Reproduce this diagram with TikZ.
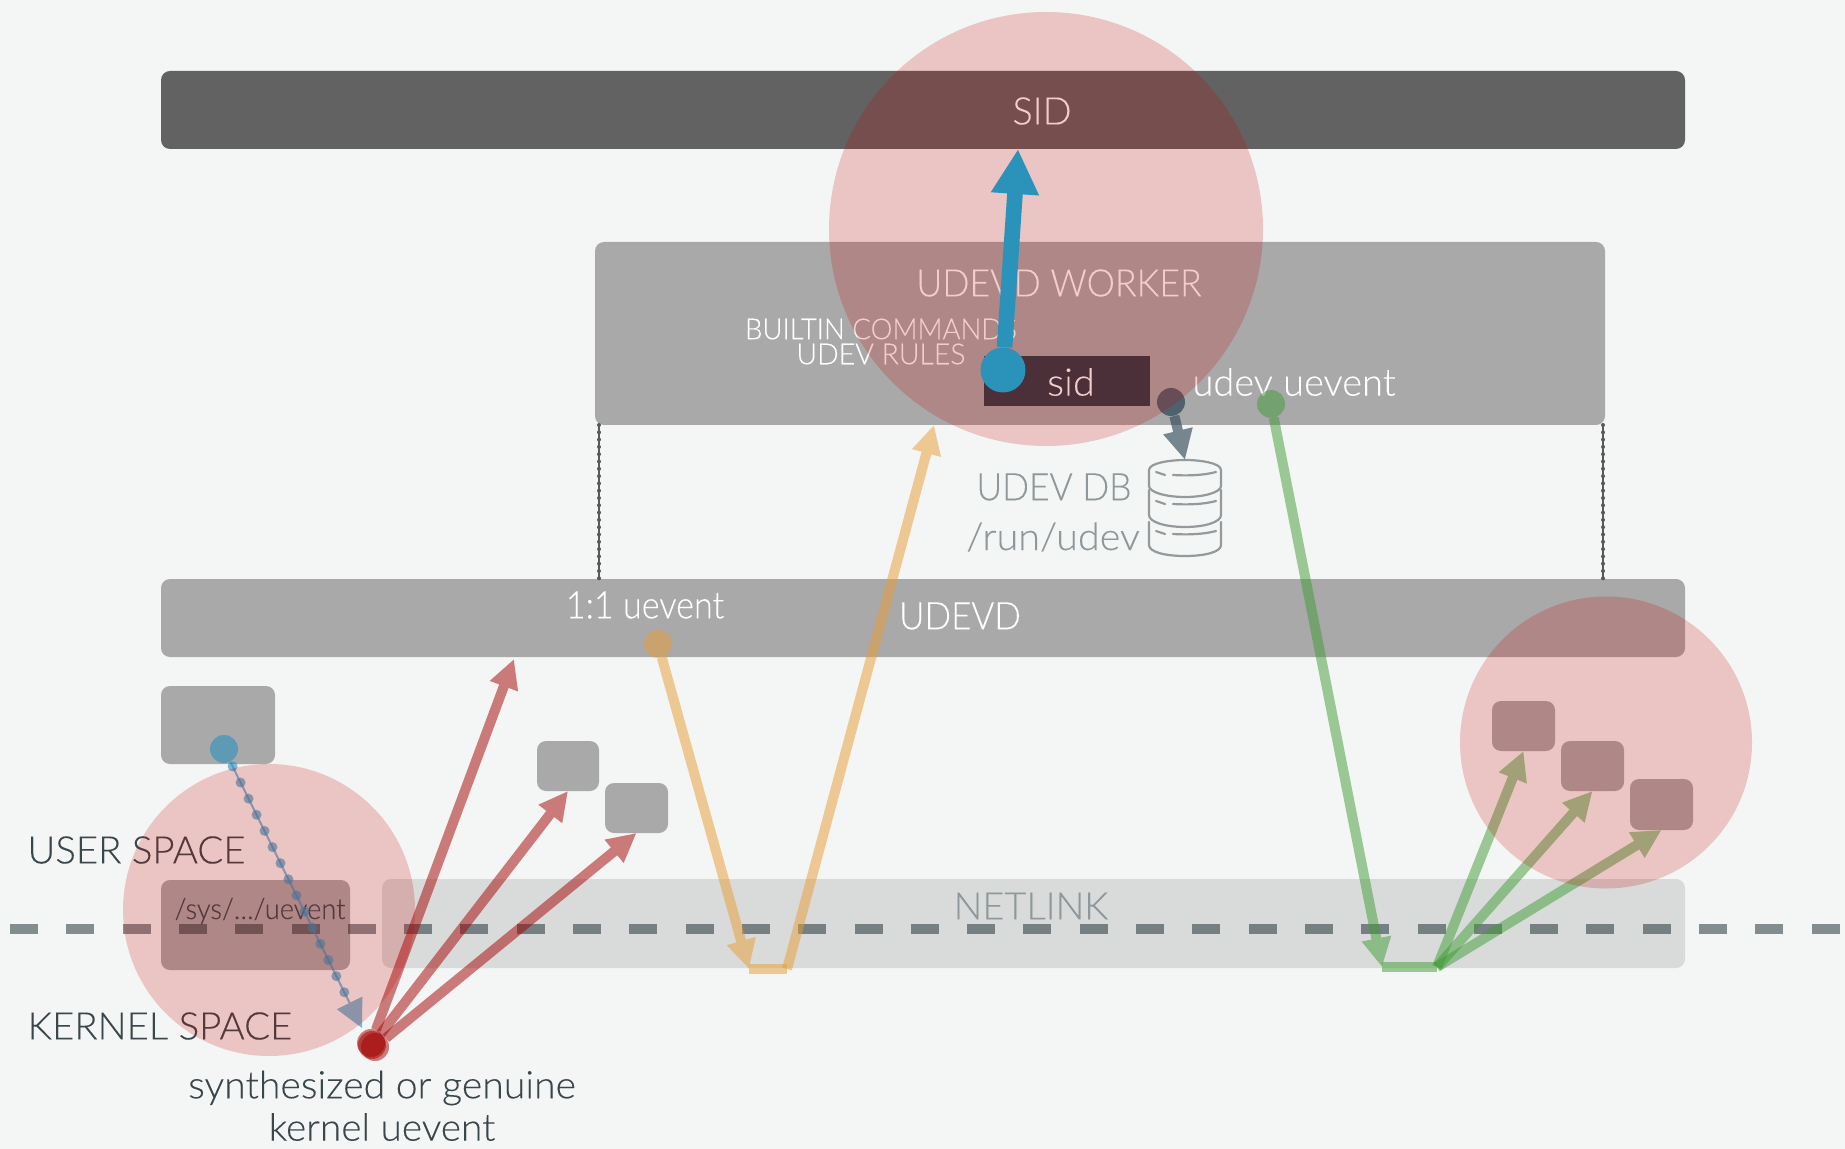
\documentclass[tikz,border=0pt]{standalone}
\usepackage{fontspec}
\setmainfont{Lato}[UprightFont=* Light,FakeBold=0.15,AutoFakeBold=false]
\usetikzlibrary{arrows.meta}
\definecolor{bgc}{HTML}{F4F6F5}
\definecolor{barc}{HTML}{626262}
\definecolor{boxc}{HTML}{A9A9A9}
\definecolor{netc}{HTML}{D9DBDA}
\definecolor{sidc}{HTML}{2C3B48}
\definecolor{pinkc}{HTML}{C70000}
\definecolor{redc}{HTML}{A30000}
\definecolor{yelc}{HTML}{EA9C33}
\definecolor{grnc}{HTML}{3F9C35}
\definecolor{bluec}{HTML}{2C8FBF}
\definecolor{topc}{HTML}{2B93BA}
\definecolor{dbc}{HTML}{324A58}
\definecolor{dashc}{HTML}{14262B}
\definecolor{darkt}{HTML}{39464C}
\definecolor{greyt}{HTML}{8E979B}
\definecolor{dbicon}{HTML}{93999C}
\newcommand{\sx}[2]{\scalebox{#1}[1]{#2}}
\tikzset{
  rbox/.style={rounded corners=4.5pt,inner sep=0pt,outer sep=0pt,fill=#1},
  pinkcircle/.style={circle,inner sep=0pt,outer sep=0pt,fill=pinkc,fill opacity=.2,minimum size=146pt},
  evdot/.style={circle,inner sep=0pt,outer sep=0pt,fill=#1,fill opacity=.5,minimum size=14pt},
  lbl/.style={inner sep=0pt,outer sep=0pt,anchor=center,align=center},
  fbig/.style={font=\fontsize{19}{23}\selectfont},
  fsmall/.style={font=\fontsize{14.5}{15}\selectfont},
  evline/.style={line width=5pt,draw=#1,-{Triangle[length=14.5pt,width=14pt]}},
  evbar/.style={line width=5pt,draw=#1,opacity=.5},
  half/.style={transparency group,opacity=.5},
  vdot/.style={draw=black!65,line width=.7pt},
  vdotb/.style={draw=black!65,line width=2pt,line cap=round,dash pattern=on 0pt off 3.65pt},
  dbline/.style={draw=dbicon,line width=1.1pt,line cap=round,line join=round},
}
\begin{document}
\begin{tikzpicture}[x=.5pt,y=-.5pt]
\fill[bgc] (0,0) rectangle (1845,1149);
\useasboundingbox (0,0) rectangle (1845,1149);
% boxes
\node[rbox=barc,minimum width=762pt,minimum height=39pt] (sidbar) at (923,110) {};
\node[rbox=boxc,minimum width=505pt,minimum height=91.5pt] (worker) at (1100,333.5) {};
\node[rbox=boxc,minimum width=762pt,minimum height=39pt] (udevd) at (923,618) {};
\node[rbox=boxc,minimum width=57pt,minimum height=39pt] (kbox) at (218,725) {};
\node[rbox=boxc,minimum width=31pt,minimum height=25pt] (lb1) at (568,766) {};
\node[rbox=boxc,minimum width=31.5pt,minimum height=25pt] (lb2) at (636.5,808) {};
\node[rbox=boxc,minimum width=94.5pt,minimum height=45pt] (sys) at (255.5,925) {};
\node[rbox=netc,minimum width=651.5pt,minimum height=44.5pt] (netlink) at (1033.5,923.5) {};
\node[rbox=boxc,minimum width=31.5pt,minimum height=25pt] (rb1) at (1523.5,726) {};
\node[rbox=boxc,minimum width=31.5pt,minimum height=25pt] (rb2) at (1592.5,766) {};
\node[rbox=boxc,minimum width=31.5pt,minimum height=25.5pt] (rb3) at (1661.5,804.5) {};
\node[inner sep=0pt,outer sep=0pt,fill=sidc,minimum width=83pt,minimum height=25pt] (sidbox) at (1067,381) {};
% dotted verticals
\coordinate (wl) at (599,425); \coordinate (ul) at (599,579);
\coordinate (wr) at (1603,425); \coordinate (ur) at (1603,579);
\draw[vdot] (wl) -- (ul); \draw[vdotb] (wl) -- (ul);
\draw[vdot] (wr) -- (ur); \draw[vdotb] (wr) -- (ur);
% labels
\node[lbl,fbig,text=white] (tsid) at (1042,111) {SID};
\node[lbl,fbig,text=white] (tworker) at (1059,283) {\sx{.94}{UDEVD WORKER}};
\node[lbl,fsmall,text=white] (tbuiltin) at (881,329) {\sx{.95}{BUILTIN COMMANDS}};
\node[lbl,fsmall,text=white] (trules) at (881,354) {\sx{.98}{UDEV RULES}};
\node[lbl,fbig,text=white] (tsidb) at (1071,382) {\sx{1.05}{sid}};
\node[lbl,fbig,text=white] (tuev) at (1294,382) {udev uevent};
\node[lbl,fbig,text=greyt] (tdb) at (1054,487) {\sx{.93}{UDEV DB}};
\node[lbl,fbig,text=greyt] (trun) at (1053,537) {\sx{1.04}{/run/udev}};
\node[lbl,fbig,text=white] (t11) at (645,605) {\sx{.9}{1:1 uevent}};
\node[lbl,fbig,text=white] (tudevd) at (960,616) {\sx{.92}{UDEVD}};
\node[lbl,fbig,text=greyt] (tnet) at (1031,906) {NETLINK};
\node[lbl,fbig,text=darkt] (tuser) at (136.5,850) {\sx{1.01}{USER SPACE}};
\node[lbl,fbig,text=darkt] (tkern) at (160,1026) {\sx{1.01}{KERNEL SPACE}};
\node[lbl,fsmall,text=darkt] (tsys) at (260,911) {\sx{.94}{/sys/…/uevent}};
\node[lbl,fbig,text=darkt] (tsyn) at (382,1088) {\sx{1.03}{synthesized or genuine}};
\node[lbl,fbig,text=darkt] (tkue) at (382,1127) {\sx{1.02}{kernel uevent}};
% dashed separator
\coordinate (dl) at (10,929); \coordinate (dr) at (1840,929);
\draw[draw=dashc,draw opacity=.5,line width=4.6pt,dash pattern=on 14pt off 14.15pt] (dl) -- (dr);
% DB icon
\node[inner sep=0pt,minimum size=0pt] (dbtop) at (1185,460) {};
\draw[dbline] (1149,470) .. controls (1149,463) and (1170,460) .. (dbtop.center) .. controls (1200,460) and (1221,463) .. (1221,470)
  -- (1221,486) .. controls (1221,492) and (1205,497) .. (1185,497) .. controls (1165,497) and (1149,492) .. (1149,486) -- cycle;
\draw[dbline] (1221,490) -- (1221,515) .. controls (1221,522) and (1205,527) .. (1185,527) .. controls (1165,527) and (1149,522) .. (1149,515) -- (1149,490);
\draw[dbline] (1221,522) -- (1221,545) .. controls (1221,552) and (1205,556) .. (1185,556) .. controls (1165,556) and (1149,552) .. (1149,545) -- (1149,522);
\draw[dbline] (1156,472) -- (1165,475) (1173,475) .. controls (1190,476) and (1205,475) .. (1216,472);
\draw[dbline] (1156,501) -- (1165,504) (1173,504) .. controls (1190,505) and (1205,504) .. (1216,501);
\draw[dbline] (1156,531) -- (1165,534) (1173,534) .. controls (1190,535) and (1205,534) .. (1216,531);
% event dots and arrows
\node[evdot=redc] (rd1) at (371,1043) {};
\node[evdot=redc] (rd2) at (372,1045) {};
\node[evdot=redc] (rd3) at (375,1047) {};
\coordinate (redtip) at (514,659);
\begin{scope}[half]\draw[evline=redc] (rd1) -- (redtip);\end{scope}
\begin{scope}[half]\draw[evline=redc] (rd2) -- (lb1.south);\end{scope}
\begin{scope}[half]\draw[evline=redc] (rd3) -- (lb2.south);\end{scope}
\node[evdot=yelc] (yd) at (658,644) {};
\coordinate (yb1) at (749,969); \coordinate (yb2) at (787,969); \coordinate (ytip) at (934,425);
\begin{scope}[half]\draw[evline=yelc] (yd) -- (yb1);\end{scope}
\draw[evbar=yelc] (yb1) -- (yb2);
\begin{scope}[half]\draw[evline=yelc] (yb2) -- (ytip);\end{scope}
\node[evdot=grnc] (gd) at (1271,404) {};
\coordinate (gb1) at (1382,967); \coordinate (gb2) at (1437,967);
\begin{scope}[half]\draw[evline=grnc] (gd) -- (gb1);\end{scope}
\draw[evbar=grnc] (gb1) -- (gb2);
\begin{scope}[half]\draw[evline=grnc] (gb2) -- (rb1.south);\end{scope}
\begin{scope}[half]\draw[evline=grnc] (gb2) -- (rb2.south);\end{scope}
\begin{scope}[half]\draw[evline=grnc] (gb2) -- (rb3.south);\end{scope}
\node[circle,inner sep=0pt,fill=dbc,fill opacity=.75,minimum size=14pt] (dbd) at (1171,402) {};
\begin{scope}[transparency group,opacity=.65]
\draw[draw=dbc,line width=5pt,-{Triangle[length=15pt,width=14pt]}] (dbd) -- (dbtop.center);
\end{scope}
% kernel event dotted
\node[circle,inner sep=0pt,fill=bluec,fill opacity=.6,minimum size=14pt] (kd) at (224,749) {};
\coordinate (ktip) at (362,1028);
\begin{scope}[transparency group,opacity=.6]
\draw[draw=bluec,line width=1pt,-{Triangle[length=14pt,width=14pt]}] (kd) -- (ktip);
\end{scope}
\draw[draw=bluec,opacity=.6,line width=5pt,line cap=round,dash pattern=on 0pt off 9pt,dash phase=6.5pt,shorten >=15pt] (kd) -- (ktip);
% pink circles
\node[pinkcircle] (c1) at (269,910) {};
\node[pinkcircle] (c2) at (1606,742.5) {};
\node[pinkcircle,minimum size=217pt] (c3) at (1046,229) {};
% top arrow
\node[circle,inner sep=0pt,fill=topc,minimum size=22.5pt] (td) at (1003,370) {};
\coordinate (ttip) at (1018,149);
\draw[draw=topc,line width=7.8pt,-{Triangle[length=22.5pt,width=22.5pt]}] (td) -- (ttip);
\end{tikzpicture}
\end{document}
